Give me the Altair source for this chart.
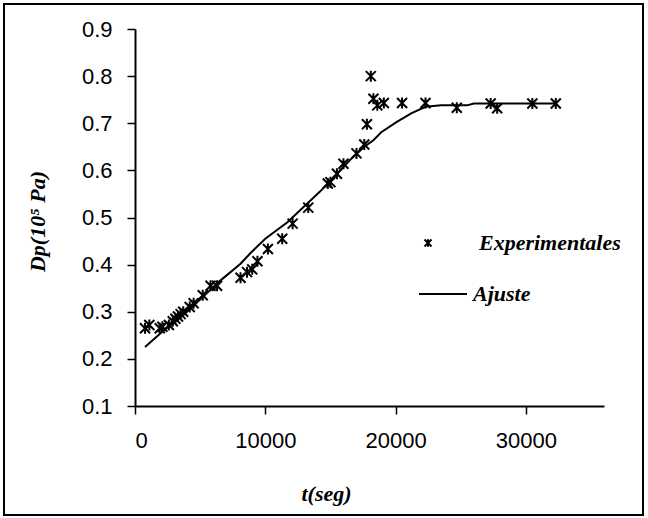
import altair as alt
import pandas as pd

# Experimental points
exp_t = [770, 1100, 1900, 2100, 2600, 2900, 3100, 3300, 3500, 3700, 4200, 4500,
         5200, 5800, 6300, 8100, 8600, 9000, 9400, 10200, 11300, 12100, 13300,
         14800, 15000, 15500, 16000, 17000, 17600, 17800, 18100, 18300, 18600,
         19100, 20500, 22300, 24700, 27300, 27800, 30500, 32300]
exp_dp = [0.265, 0.272, 0.265, 0.268, 0.272, 0.280, 0.285, 0.290, 0.295, 0.300,
          0.310, 0.318, 0.335, 0.355, 0.355, 0.372, 0.384, 0.390, 0.407, 0.433,
          0.455, 0.487, 0.521, 0.572, 0.575, 0.593, 0.614, 0.636, 0.655, 0.698,
          0.800, 0.752, 0.738, 0.743, 0.743, 0.743, 0.733, 0.742, 0.732, 0.742,
          0.742]

# Fitted curve
fit_t = [770, 2200, 4000, 6500, 8100, 8850, 10000, 11700, 14200, 15000, 16500,
         17600, 18300, 18900, 20100, 21200, 22300, 23500, 25500, 26000, 32300]
fit_dp = [0.225, 0.260, 0.300, 0.365, 0.402, 0.424, 0.455, 0.490, 0.555, 0.578,
          0.622, 0.650, 0.664, 0.681, 0.703, 0.721, 0.735, 0.738, 0.738, 0.742,
          0.742]

x_ticks = [0, 10000, 20000, 30000]
y_ticks = [0.1, 0.2, 0.3, 0.4, 0.5, 0.6, 0.7, 0.8, 0.9]

exp_df = pd.DataFrame({"t": exp_t, "dp": exp_dp, "serie": "Experimentales"})
fit_df = pd.DataFrame({"t": fit_t, "dp": fit_dp, "serie": "Ajuste"})

STAR = "M-1,-1L1,1M-1,1L1,-1M0,-1.1L0,1.1"
SERIF = "'Times New Roman', 'Liberation Serif', 'DejaVu Serif', serif"

x_enc = alt.X("t:Q", scale=alt.Scale(domain=[0, 36000], nice=False),
              axis=alt.Axis(values=x_ticks, format="d", title="t(seg)",
                            titleX=191, titleY=94, titleBaseline="alphabetic",
                            titleAnchor=None))
y_enc = alt.Y("dp:Q", scale=alt.Scale(domain=[0.1, 0.9], nice=False, zero=False),
              axis=alt.Axis(values=y_ticks, format=".1f", title="Dp(10⁵ Pa)",
                            titleX=-91, titleY=192, titleBaseline="alphabetic",
                            titleAngle=270, titleAlign="center"))

pts = alt.Chart(exp_df).mark_point(filled=False, strokeWidth=2, size=100,
                                   color="black", opacity=1).encode(
    x=x_enc, y=y_enc,
    shape=alt.Shape("serie:N", scale=alt.Scale(domain=["Experimentales"], range=[STAR]),
                    legend=alt.Legend(title=None, orient="none", legendX=282, legendY=203,
                                      symbolSize=49, symbolStrokeWidth=2, symbolOpacity=1,
                                      symbolStrokeColor="black", symbolFillColor="transparent",
                                      labelOffset=40, padding=0)),
)

line = alt.Chart(fit_df).mark_line(color="black", strokeWidth=2).encode(
    x="t:Q", y="dp:Q",
    color=alt.Color("serie:N", scale=alt.Scale(domain=["Ajuste"], range=["black"]),
                    legend=alt.Legend(title=None, orient="none", legendX=283, legendY=240,
                                      symbolType="stroke", symbolSize=2304, symbolOpacity=1,
                                      symbolStrokeWidth=2, labelOffset=5, padding=0)),
)

border = alt.Chart(pd.DataFrame({"a": [0]})).mark_rect(
    filled=False, stroke="black", strokeWidth=2).encode(
    x=alt.value(-131), x2=alt.value(508), y=alt.value(-25), y2=alt.value(486))

chart = alt.layer(border, line, pts).resolve_legend(color="independent", shape="independent").properties(
    width=469, height=377,
    autosize=alt.AutoSizeParams(type="none"),
    padding={"left": 135, "top": 29, "right": 44, "bottom": 112},
    background="white",
).configure_view(stroke=None).configure_axis(
    labelFont="Liberation Sans", labelFontSize=22, labelColor="black",
    domainColor="black", domainWidth=2, tickColor="black", tickWidth=1.5,
    tickSize=8, grid=False,
    titleFont=SERIF, titleFontSize=22, titleFontStyle="italic",
    titleFontWeight="bold", titleColor="black",
).configure_axisX(labelPadding=16).configure_axisY(labelPadding=15).configure_legend(
    labelFont=SERIF, labelFontSize=22, labelFontStyle="italic",
    labelFontWeight="bold", labelColor="black",
)

chart.save("out.html", embed_options={"renderer": "svg", "actions": False})
